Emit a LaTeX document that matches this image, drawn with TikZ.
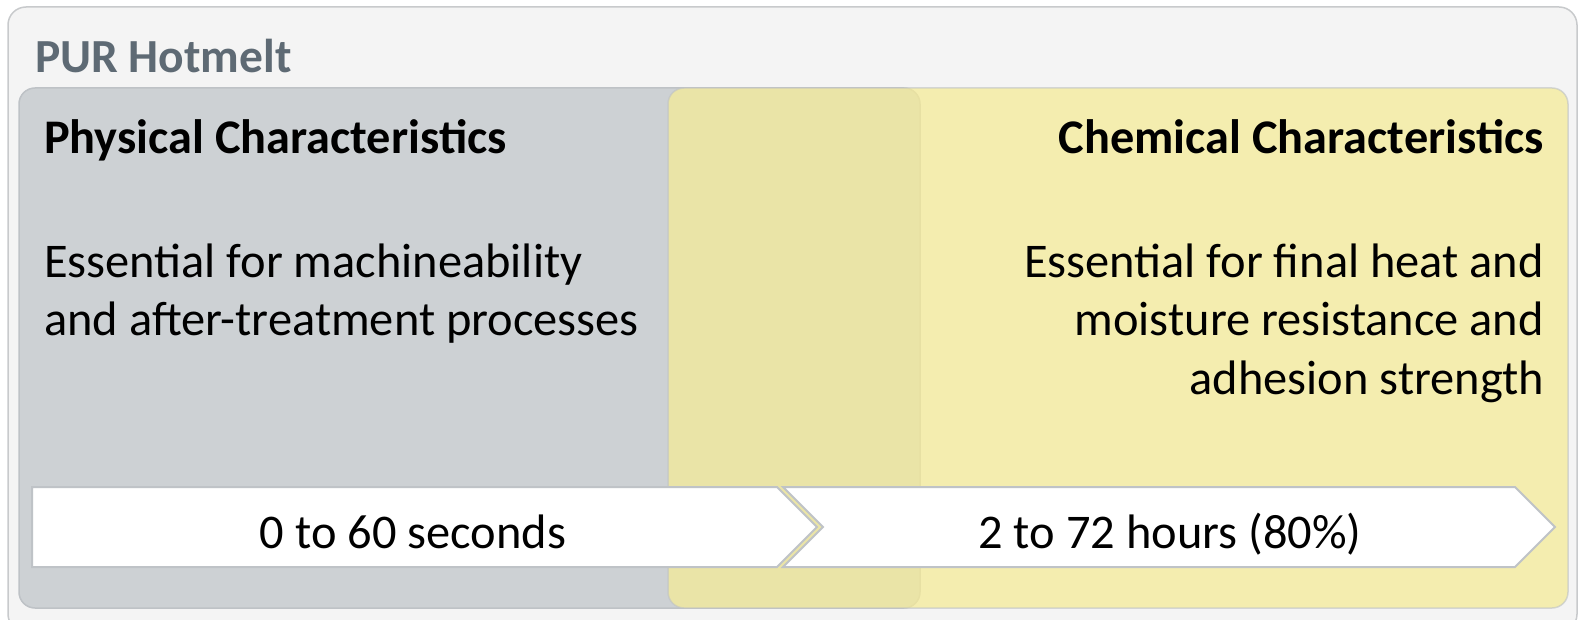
\documentclass[tikz,border=0pt]{standalone}
\usepackage{fontspec}
\setmainfont{Carlito}
\definecolor{outerfill}{HTML}{F4F4F4}
\definecolor{outerline}{HTML}{C8CACC}
\definecolor{grayfill}{HTML}{CDD1D4}
\definecolor{grayline}{HTML}{BEC2C6}
\definecolor{yellowfill}{RGB}{245,235,152}
\definecolor{titlegray}{HTML}{5E6A74}
\definecolor{chevline}{HTML}{BFC3C7}
\tikzset{
  outerbox/.style={fill=outerfill, draw=outerline, line width=1.5bp, rounded corners=18bp},
  physbox/.style={fill=grayfill, draw=grayline, line width=1.5bp, rounded corners=16bp},
  chembox/.style={fill=yellowfill, fill opacity=0.75, draw=grayline, draw opacity=0.6, line width=1.5bp, rounded corners=16bp},
  chev/.style={fill=white, draw=chevline, line width=2bp, line join=miter},
  titletext/.style={font=\fontsize{47.5bp}{56bp}\selectfont\bfseries, text=titlegray, inner sep=0pt},
  headtext/.style={font=\fontsize{48.3bp}{58bp}\selectfont\bfseries, text=black, inner sep=0pt},
  bodytext/.style={font=\fontsize{48.4bp}{58bp}\selectfont, text=black, inner sep=0pt},
}
\begin{document}
\begin{tikzpicture}[x=1bp,y=-1bp]
\useasboundingbox (0,0) rectangle (1579,620);
\begin{scope}
\clip (0,0) rectangle (1579,620);
\draw[outerbox] (8,7) rectangle (1577,632);
\draw[physbox] (19,88) rectangle (920,608);
\draw[chembox] (668,88) rectangle (1568,608);
\draw[chev] (32,487) -- (777,487) -- (817,527) -- (777,567) -- (32,567) -- cycle;
\draw[chev] (783,487) -- (1515,487) -- (1555,527) -- (1515,567) -- (783,567) -- (823,527) -- cycle;
\end{scope}
\node[titletext, anchor=base west] (title) at (35,73) {PUR Hotmelt};
\node[headtext, anchor=base west] (physhead) at (44,154) {Physical Characteristics};
\node[bodytext, anchor=base west] (phys1) at (44,277) {Essential for machineability};
\node[bodytext, anchor=base west] (phys2) at (44,335) {and after-treatment processes};
\node[headtext, anchor=base east] (chemhead) at (1544,154) {Chemical Characteristics};
\node[bodytext, anchor=base east] (chem1) at (1544,277) {Essential for final heat and};
\node[bodytext, anchor=base east] (chem2) at (1544,335) {moisture resistance and};
\node[bodytext, anchor=base east] (chem3) at (1544,394) {adhesion strength};
\node[bodytext, anchor=base] (t1) at (413,548) {0 to 60 seconds};
\node[bodytext, anchor=base] (t2) at (1170,548) {2 to 72 hours (80\%)};
\end{tikzpicture}
\end{document}
